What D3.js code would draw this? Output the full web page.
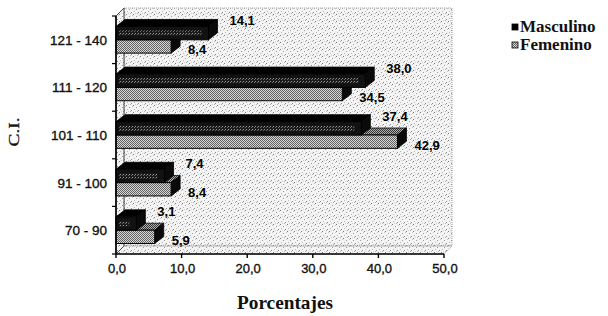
<!DOCTYPE html>
<html>
<head>
<meta charset="utf-8">
<script src="https://cdn.jsdelivr.net/npm/d3@7"></script>
<style>
  body { margin: 0; background: #fff; }
  svg { display: block; }
</style>
</head>
<body>
<div id="chart"></div>
<script>

// Data (top to bottom)
var categories = ["121 - 140", "111 - 120", "101 - 110", "91 - 100", "70 - 90"];
var masculino = [14.1, 38.0, 37.4, 7.4, 3.1];
var femenino = [8.4, 34.5, 42.9, 8.4, 5.9];
var xTicks = [0, 10, 20, 30, 40, 50];
var seriesNames = ["Masculino", "Femenino"];

var width = 608, height = 316;
var wallDx = 8, wallDy = -8;   // depth of the walls
var barDx = 9, barDy = -7;     // depth of the bars

var svg = d3.select("#chart").append("svg")
    .attr("width", width)
    .attr("height", height);

// Textures that imitate the scanned print
var defs = svg.append("defs");

function makePattern(id, size, bg, dots) {
    var p = defs.append("pattern")
        .attr("id", id)
        .attr("patternUnits", "userSpaceOnUse")
        .attr("width", size)
        .attr("height", size);
    p.append("rect").attr("width", size).attr("height", size).attr("fill", bg);
    dots.forEach(function(d) {
        p.append("rect").attr("x", d[0]).attr("y", d[1])
            .attr("width", 1).attr("height", 1).attr("fill", d[2]);
    });
}

makePattern("wall", 7, "#f4f4f4", [[0, 0, "#7a7a7a"], [3, 2, "#9a9a9a"], [5, 5, "#8a8a8a"],
                                   [1, 4, "#b8b8b8"], [6, 1, "#c4c4c4"], [4, 6, "#b0b0b0"], [2, 6, "#d0d0d0"]]);
makePattern("fem", 2, "#d8d8d8", [[0, 0, "#606060"], [1, 1, "#606060"]]);
makePattern("femTop", 2, "#b0b0b0", [[0, 0, "#333"], [1, 1, "#333"]]);
makePattern("mascStripe", 3, "#1a1a1a", [[0, 0, "#9a9a9a"], [2, 1, "#6a6a6a"]]);

// Scales
var x = d3.scaleLinear().domain([0, 50]).range([116, 444]);
var y = d3.scaleBand().domain(categories).range([16, 254]);

var x0 = x(0), x1 = x(50), yTop = y.range()[0], yBot = y.range()[1];

function poly(points) {
    return points.map(function(p) { return p.join(","); }).join(" ");
}

// Back wall, floor and left wall
svg.append("polygon")
    .attr("points", poly([[x0 + wallDx, yTop + wallDy], [x1 + wallDx, yTop + wallDy],
                          [x1 + wallDx, yBot + wallDy], [x0 + wallDx, yBot + wallDy]]))
    .attr("fill", "url(#wall)")
    .attr("stroke", "#888")
    .attr("stroke-width", 0.8)
    .attr("stroke-dasharray", "1,1");

svg.append("polygon")
    .attr("points", poly([[x0, yBot], [x1, yBot], [x1 + wallDx, yBot + wallDy], [x0 + wallDx, yBot + wallDy]]))
    .attr("fill", "url(#wall)")
    .attr("stroke", "#999")
    .attr("stroke-width", 0.6);

svg.append("polygon")
    .attr("points", poly([[x0, yTop], [x0 + wallDx, yTop + wallDy], [x0 + wallDx, yBot + wallDy], [x0, yBot]]))
    .attr("fill", "url(#wall)")
    .attr("stroke", "#444")
    .attr("stroke-width", 1);

// 3D bars
var barH = y.bandwidth() * 0.28;

function drawBar(g, value, yFront, kind) {
    var xs = x0, xe = x(value);
    var front = kind == "masc" ? "#121212" : "url(#fem)";
    var top = kind == "masc" ? "#000" : "url(#femTop)";

    // top face
    g.append("polygon")
        .attr("points", poly([[xs, yFront], [xe, yFront], [xe + barDx, yFront + barDy], [xs + barDx, yFront + barDy]]))
        .attr("fill", top)
        .attr("stroke", "#000")
        .attr("stroke-width", 0.8);
    // right face
    g.append("polygon")
        .attr("points", poly([[xe, yFront], [xe + barDx, yFront + barDy],
                              [xe + barDx, yFront + barH + barDy], [xe, yFront + barH]]))
        .attr("fill", "#0a0a0a")
        .attr("stroke", "#000")
        .attr("stroke-width", 0.8);
    // front face
    g.append("rect")
        .attr("x", xs)
        .attr("y", yFront)
        .attr("width", xe - xs)
        .attr("height", barH)
        .attr("fill", front)
        .attr("stroke", "#000")
        .attr("stroke-width", 1);

    // speckled highlight inside the dark bars
    if (kind == "masc" && xe - xs > 20) {
        g.append("rect")
            .attr("x", xs + 3)
            .attr("y", yFront + barH * 0.3)
            .attr("width", xe - xs - 10)
            .attr("height", barH * 0.4)
            .attr("fill", "url(#mascStripe)");
    }
}

var bars = svg.append("g");
categories.forEach(function(c, i) {
    var mid = y(c) + y.bandwidth() / 2;
    var g = bars.append("g");
    drawBar(g, femenino[i], mid, "fem");
    drawBar(g, masculino[i], mid - barH, "masc");
});

// Axes lines
svg.append("line")
    .attr("x1", x0).attr("x2", x0).attr("y1", yTop).attr("y2", yBot)
    .attr("stroke", "#000").attr("stroke-width", 1.6);
svg.append("line")
    .attr("x1", x0).attr("x2", x1).attr("y1", yBot).attr("y2", yBot)
    .attr("stroke", "#000").attr("stroke-width", 1.6);

var sansFont = "'Liberation Sans', Arial, sans-serif";
var serifFont = "'Liberation Serif', 'Times New Roman', serif";

// X axis ticks and labels
var fmt = d3.format(".1f");
var xAxis = svg.append("g");
xAxis.selectAll("line")
    .data(xTicks)
    .enter().append("line")
    .attr("x1", function(d) { return x(d); })
    .attr("x2", function(d) { return x(d); })
    .attr("y1", yBot)
    .attr("y2", yBot + 4)
    .attr("stroke", "#000")
    .attr("stroke-width", 1.4);
xAxis.selectAll("text")
    .data(xTicks)
    .enter().append("text")
    .attr("x", function(d) { return x(d) + 1; })
    .attr("y", yBot + 19)
    .attr("text-anchor", "middle")
    .style("font-family", sansFont)
    .style("font-size", "13px")
    .style("fill", "#111")
    .style("stroke", "#111")
    .style("stroke-width", 0.35)
    .text(function(d) { return fmt(d).replace(".", ","); });

// Y axis ticks at band edges and category labels
var edges = categories.map(function(c) { return y(c); }).concat([yBot]);
svg.append("g").selectAll("line")
    .data(edges)
    .enter().append("line")
    .attr("x1", x0 - 4)
    .attr("x2", x0)
    .attr("y1", function(d) { return d; })
    .attr("y2", function(d) { return d; })
    .attr("stroke", "#000")
    .attr("stroke-width", 1.2);

svg.append("g").selectAll("text")
    .data(categories)
    .enter().append("text")
    .attr("x", 107)
    .attr("y", function(d) { return y(d) + y.bandwidth() / 2 + 5; })
    .attr("text-anchor", "end")
    .style("font-family", sansFont)
    .style("font-size", "13.5px")
    .style("fill", "#111")
    .style("stroke", "#111")
    .style("stroke-width", 0.35)
    .text(function(d) { return d; });

// Value labels
var labels = svg.append("g")
    .style("font-family", sansFont)
    .style("font-size", "13px")
    .style("font-weight", "bold")
    .style("fill", "#000");

categories.forEach(function(c, i) {
    var mid = y(c) + y.bandwidth() / 2;
    labels.append("text")
        .attr("x", x(masculino[i]) + 21)
        .attr("y", mid - barH - 6 + 5)
        .text(fmt(masculino[i]).replace(".", ","));
    labels.append("text")
        .attr("x", x(femenino[i]) + 17)
        .attr("y", mid + barH / 2 + 3 + 5)
        .text(fmt(femenino[i]).replace(".", ","));
});

// Axis titles
svg.append("text")
    .attr("x", 285)
    .attr("y", 309)
    .attr("text-anchor", "middle")
    .attr("textLength", 96)
    .attr("lengthAdjust", "spacingAndGlyphs")
    .style("font-family", serifFont)
    .style("font-size", "19px")
    .style("font-weight", "bold")
    .style("fill", "#111")
    .text("Porcentajes");

svg.append("text")
    .attr("transform", "translate(19,132) rotate(-90)")
    .attr("text-anchor", "middle")
    .attr("textLength", 29)
    .attr("lengthAdjust", "spacingAndGlyphs")
    .style("font-family", serifFont)
    .style("font-size", "15px")
    .style("fill", "#111")
    .style("stroke", "#111")
    .style("stroke-width", 0.3)
    .text("C.I.");

// Legend
var legend = svg.append("g");
var legendFill = ["#000", "url(#fem)"];
seriesNames.forEach(function(name, i) {
    var ly = 27 + i * 18;
    legend.append("rect")
        .attr("x", 512)
        .attr("y", ly - 3)
        .attr("width", 6)
        .attr("height", 6)
        .attr("fill", legendFill[i])
        .attr("stroke", "#000")
        .attr("stroke-width", 0.8);
    legend.append("text")
        .attr("x", 520)
        .attr("y", ly + 5)
        .style("font-family", serifFont)
        .style("font-size", "17px")
        .style("font-weight", "bold")
        .style("fill", "#111")
        .text(name);
});

</script>
</body>
</html>
